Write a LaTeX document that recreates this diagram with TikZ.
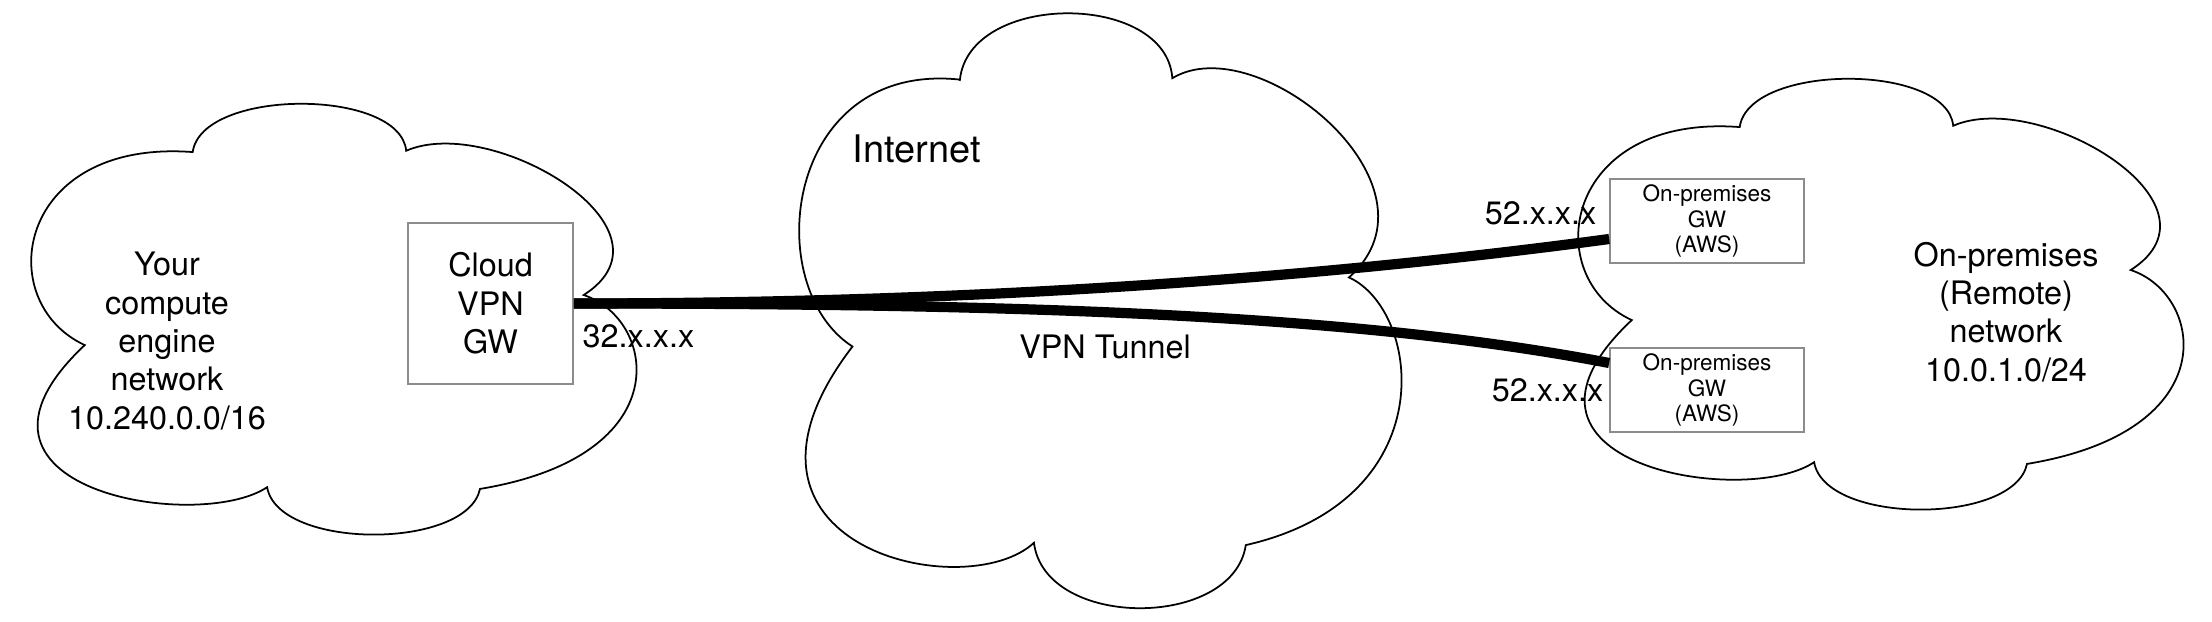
\documentclass[tikz,border=0pt]{standalone}
\usepackage{fontspec}
\setmainfont{TeX Gyre Heros}
\usetikzlibrary{calc}
\definecolor{boxgray}{RGB}{140,140,140}

\newcommand{\netcloud}[4]{%
  \begin{scope}[shift={(#1,#2)},xscale=#3,yscale=#4]
    \draw[cloud line] (0.270,0.110)
      .. controls (0.285,-0.04) and (0.610,-0.04) .. (0.620,0.107)
      .. controls (0.76,0.02) and (1.08,0.29) .. (0.911,0.444)
      .. controls (1.03,0.50) and (1.07,0.82) .. (0.741,0.897)
      .. controls (0.72,1.04) and (0.41,1.04) .. (0.392,0.893)
      .. controls (0.28,1.0) and (-0.16,0.90) .. (0.093,0.561)
      .. controls (-0.06,0.46) and (-0.02,0.08) .. cycle;
  \end{scope}}

\begin{document}
\begin{tikzpicture}[x=0.01cm,y=-0.01cm,
  cloud line/.style={line width=0.5pt},
  gw box/.style={draw=boxgray,line width=0.45pt,fill=white,align=center,inner sep=0pt},
  net text/.style={font=\fontsize{9.2}{10.9}\selectfont,align=center,inner sep=0pt},
  tunnel line/.style={line width=2.9pt}]
  \useasboundingbox (0,0) rectangle (2212,621);

  % the three networks
  \netcloud{28}{105}{610}{428}
  \netcloud{796}{15}{607}{591}
  \netcloud{1575}{80}{610}{428}

  \node[gw box,minimum width=1.65cm,minimum height=1.61cm,font=\fontsize{9.2}{10.9}\selectfont] (gw) at (490.5,303.5) {Cloud\\VPN\\GW};
  \node[gw box,minimum width=1.94cm,minimum height=0.84cm,font=\fontsize{6.4}{7.2}\selectfont] (aws1) at (1707,221) {On-premises\\GW\\(AWS)};
  \node[gw box,minimum width=1.94cm,minimum height=0.84cm,font=\fontsize{6.4}{7.2}\selectfont] (aws2) at (1707,390) {On-premises\\GW\\(AWS)};

  \node[net text] (local) at (167,341) {Your\\compute\\engine\\network\\10.240.0.0/16};
  \node[net text] (remote) at (2006,312) {On-premises\\(Remote)\\network\\10.0.1.0/24};
  \node[net text,font=\fontsize{10.8}{13}\selectfont,anchor=base west] (inet) at (852,162) {Internet};
  \node[net text,anchor=base] (tunnel) at (1105,358) {VPN Tunnel};
  \node[net text,anchor=west] (ipgw) at (582,336) {32.x.x.x};
  \node[net text,anchor=east] (ipaws1) at (1597,213) {52.x.x.x};
  \node[net text,anchor=east] (ipaws2) at (1604,390) {52.x.x.x};

  % tunnels
  \coordinate (t1) at ($(aws1.west)+(0,18)$);
  \coordinate (t2) at ($(aws2.west)+(0,-27)$);
  \draw[tunnel line] (gw.east) .. controls +(430,0) and +(-260,35) .. (t1);
  \draw[tunnel line] (gw.east) .. controls +(430,0) and +(-260,-50) .. (t2);
\end{tikzpicture}
\end{document}
